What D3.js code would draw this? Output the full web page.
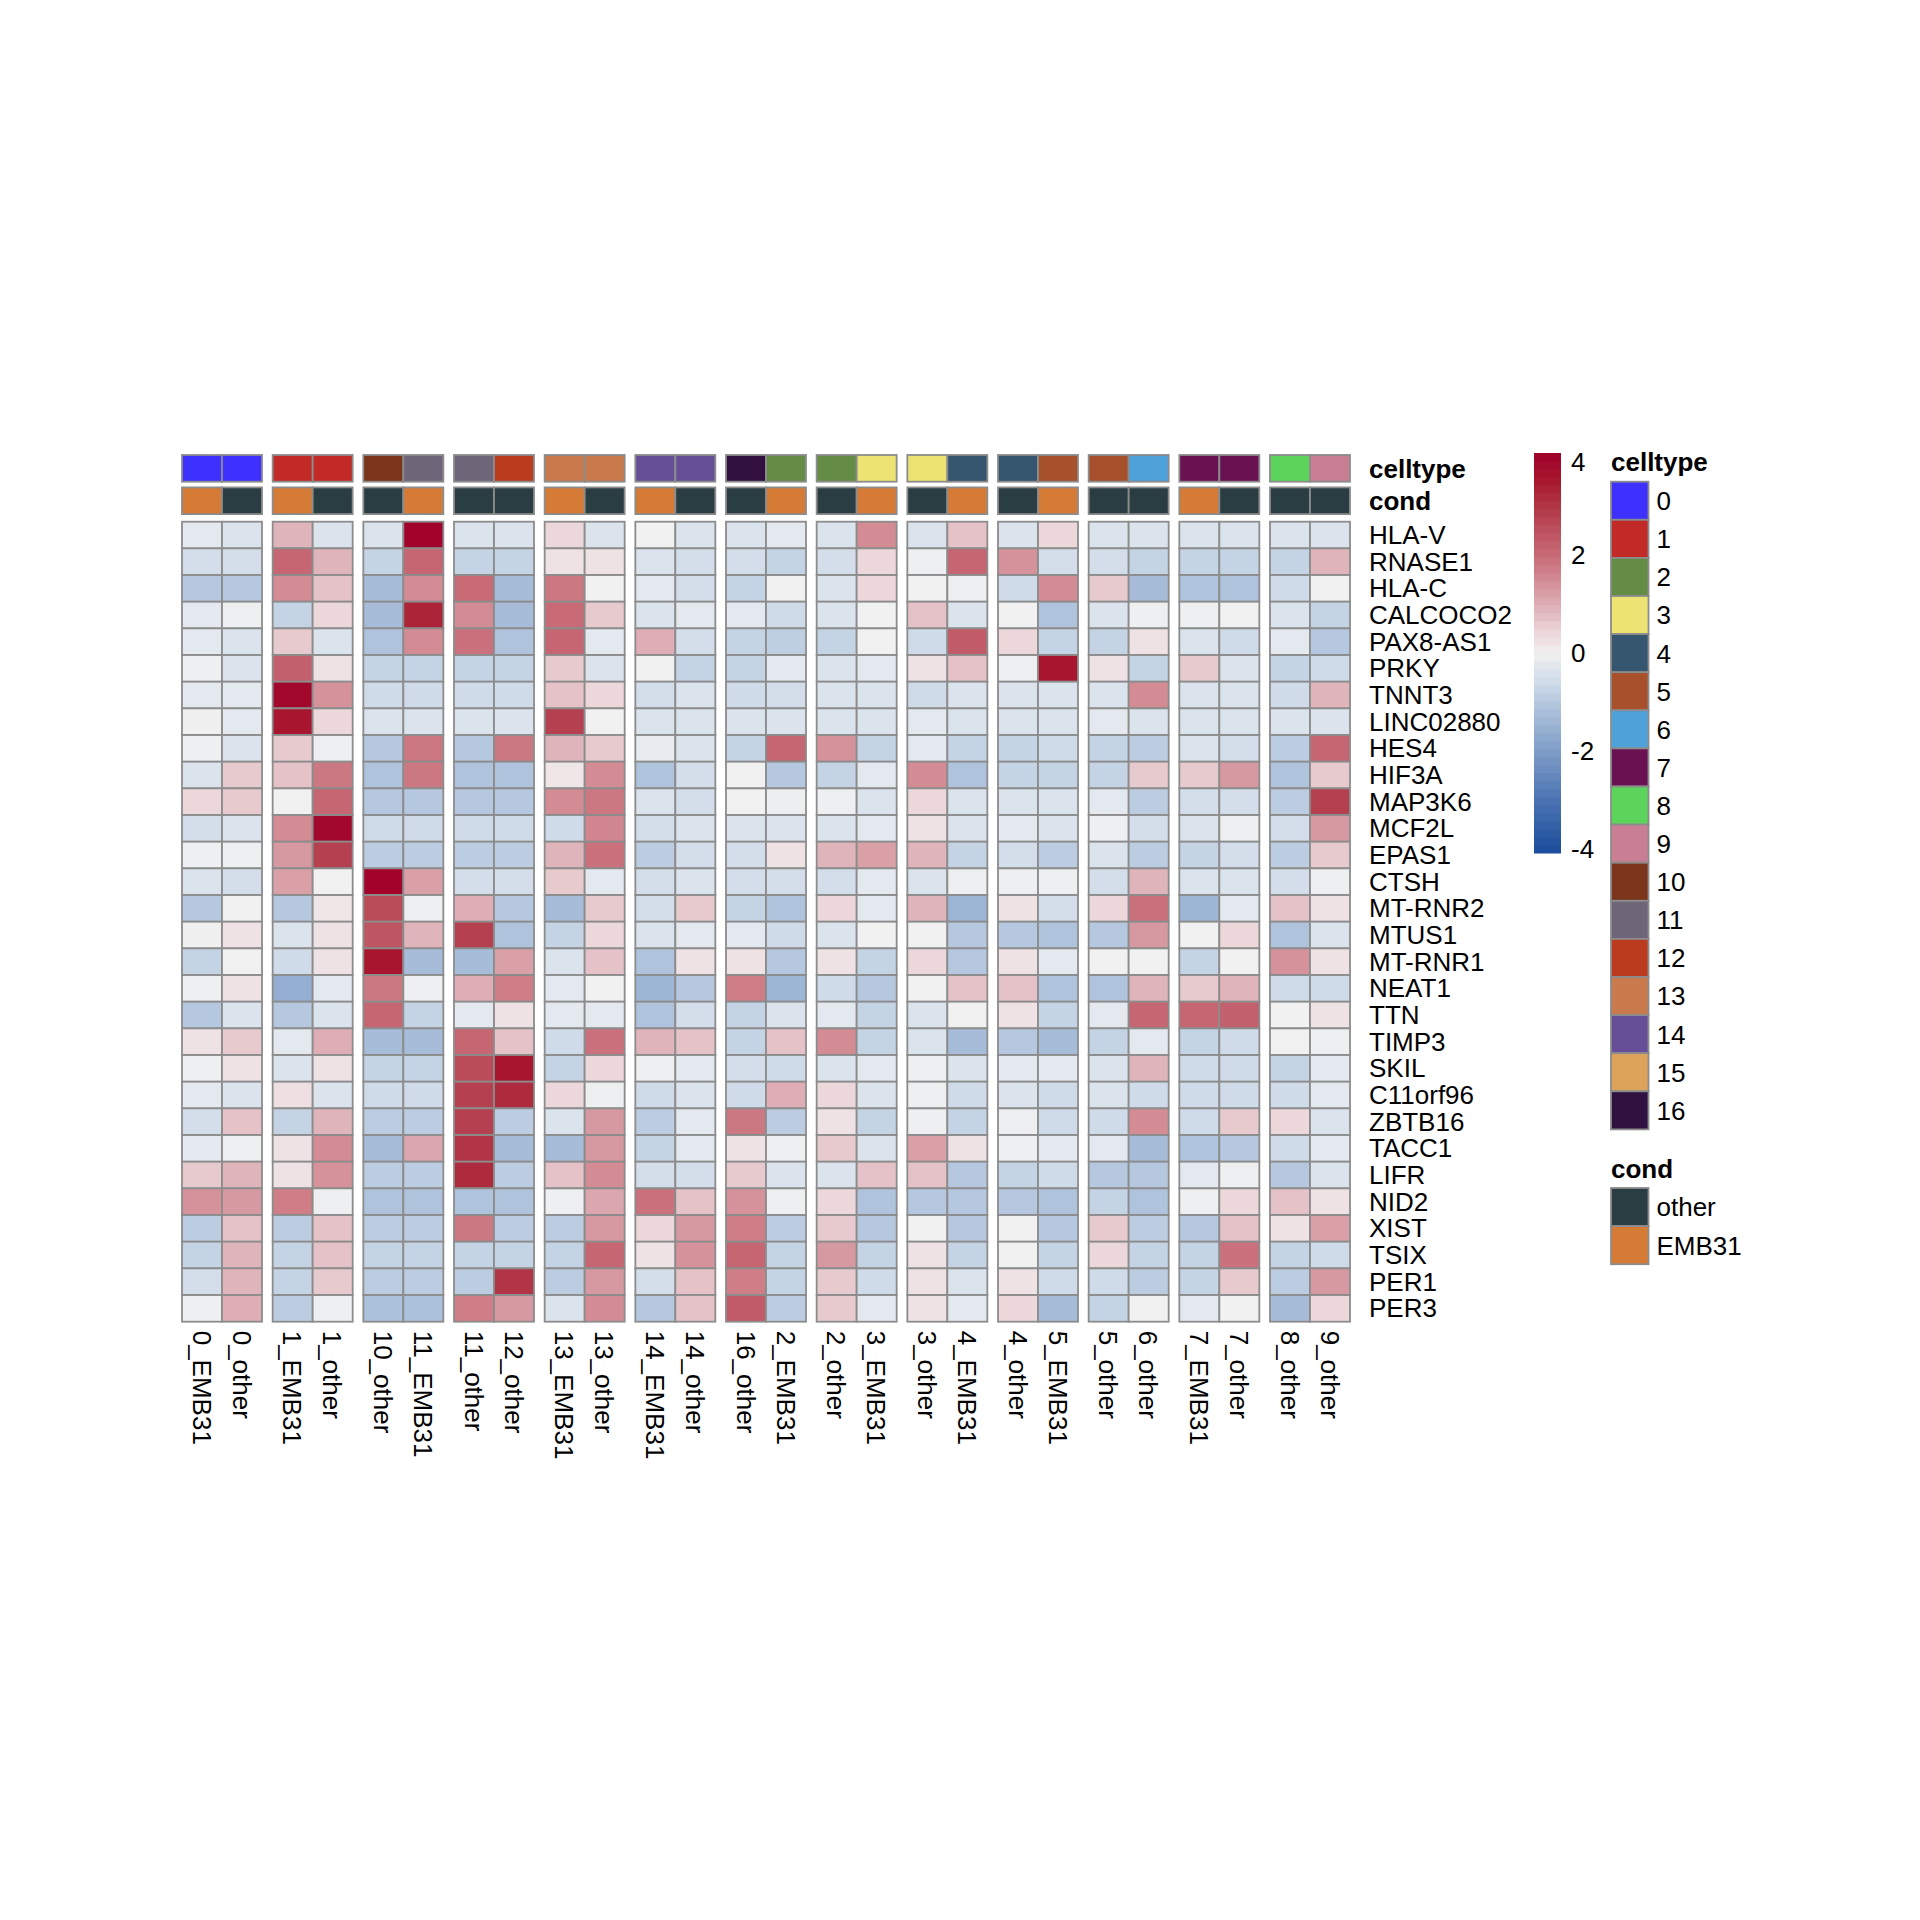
<!DOCTYPE html>
<html>
<head>
<meta charset="utf-8">
<script src="https://cdn.jsdelivr.net/npm/d3@7"></script>
<style>
  html, body { margin: 0; padding: 0; background: #ffffff; }
  text { font-family: "Liberation Sans", Arial, Helvetica, sans-serif; fill: #000; }
</style>
</head>
<body>
<div id="chart"></div>
<script>
/* ============================================================
   DATA
============================================================ */

const genes = [
    "HLA-V", "RNASE1", "HLA-C", "CALCOCO2", "PAX8-AS1", "PRKY", "TNNT3",
    "LINC02880", "HES4", "HIF3A", "MAP3K6", "MCF2L", "EPAS1", "CTSH",
    "MT-RNR2", "MTUS1", "MT-RNR1", "NEAT1", "TTN", "TIMP3", "SKIL",
    "C11orf96", "ZBTB16", "TACC1", "LIFR", "NID2", "XIST", "TSIX", "PER1", "PER3"
];

const samples = [
    "0_EMB31", "0_other", "1_EMB31", "1_other", "10_other", "11_EMB31",
    "11_other", "12_other", "13_EMB31", "13_other", "14_EMB31", "14_other",
    "16_other", "2_EMB31", "2_other", "3_EMB31", "3_other", "4_EMB31",
    "4_other", "5_EMB31", "5_other", "6_other", "7_EMB31", "7_other",
    "8_other", "9_other"
];

// column groups of two (gaps in the heatmap)
const sampleGroup = [0,0,1,1,2,2,3,3,4,4,5,5,6,6,7,7,8,8,9,9,10,10,11,11,12,12];

const sampleCelltype = [
    "0", "0", "1", "1", "10", "11", "11", "12", "13", "13", "14", "14",
    "16", "2", "2", "3", "3", "4", "4", "5", "5", "6", "7", "7", "8", "9"
];

const sampleCond = [
    "EMB31", "other", "EMB31", "other", "other", "EMB31", "other", "other",
    "EMB31", "other", "EMB31", "other", "other", "EMB31", "other", "EMB31",
    "other", "EMB31", "other", "EMB31", "other", "other", "EMB31", "other",
    "other", "other"
];

// scaled expression, one row per gene, one value per sample
const values = [
    [-0.2,-0.35,0.9,-0.35,-0.35,4.0,-0.35,-0.35,0.4,-0.35,0,-0.35,-0.35,-0.2,-0.35,1.5,-0.35,0.7,-0.35,0.4,-0.35,-0.35,-0.35,-0.35,-0.35,-0.35],
    [-0.5,-0.5,2.1,0.9,-0.75,2.1,-0.75,-0.75,0.2,0.2,-0.35,-0.5,-0.5,-0.75,-0.5,0.4,-0.05,2.1,1.4,-0.5,-0.5,-0.75,-0.75,-0.75,-0.75,0.9],
    [-1.0,-1.0,1.5,0.7,-1.25,1.5,2.0,-1.25,1.8,0,-0.2,-0.5,-0.75,0,-0.35,0.4,0,-0.05,-0.6,1.5,0.6,-1.25,-1.1,-1.1,-0.6,0],
    [-0.2,-0.05,-0.75,0.4,-1.25,3.3,1.5,-1.25,2.0,0.6,-0.35,-0.2,-0.2,-0.6,-0.35,0,0.7,-0.35,0,-1.1,-0.35,-0.05,-0.05,0,-0.35,-0.75],
    [-0.2,-0.35,0.6,-0.35,-1.1,1.5,1.9,-1.1,2.1,-0.2,1.0,-0.5,-0.75,-0.85,-0.75,0,-0.6,2.3,0.4,-0.75,-0.75,0.2,-0.35,-0.6,-0.2,-1.0],
    [-0.05,-0.35,2.2,0.2,-0.75,-0.75,-0.75,-0.75,0.6,-0.35,0,-0.75,-0.75,-0.2,-0.35,-0.2,0.2,0.7,-0.05,3.6,0.2,-0.75,0.6,-0.35,-0.75,-0.6],
    [-0.2,-0.2,3.9,1.4,-0.6,-0.6,-0.6,-0.6,0.7,0.4,-0.5,-0.35,-0.6,-0.5,-0.35,-0.35,-0.6,-0.35,-0.35,-0.35,-0.35,1.5,-0.35,-0.35,-0.6,0.9],
    [0.02,-0.2,3.6,0.4,-0.35,-0.35,-0.35,-0.35,2.8,0,-0.35,-0.35,-0.35,-0.35,-0.35,-0.35,-0.2,-0.35,-0.35,-0.35,-0.2,-0.35,-0.35,-0.35,-0.35,-0.35],
    [-0.05,-0.35,0.6,-0.05,-1.0,1.8,-1.0,1.8,0.9,0.6,-0.15,-0.35,-0.75,2.1,1.4,-0.75,-0.2,-0.75,-0.75,-0.6,-0.75,-0.9,-0.35,-0.5,-0.9,2.1],
    [-0.35,0.6,0.7,1.8,-1.1,1.8,-1.1,-1.1,0.15,1.5,-1.1,-0.5,0,-1.0,-0.75,-0.2,1.5,-1.1,-0.75,-0.75,-0.75,0.6,0.6,1.3,-1.1,0.6],
    [0.4,0.6,0,2.1,-1.0,-1.0,-1.0,-1.0,1.5,1.8,-0.35,-0.5,0,-0.08,-0.05,-0.35,0.4,-0.35,-0.35,-0.35,-0.2,-0.9,-0.5,-0.5,-0.9,2.8],
    [-0.5,-0.35,1.5,3.9,-0.6,-0.6,-0.6,-0.6,-0.6,1.6,-0.5,-0.35,-0.35,-0.35,-0.35,-0.2,0.2,-0.35,-0.2,-0.35,-0.05,-0.5,-0.35,-0.05,-0.5,1.3],
    [-0.05,-0.05,1.3,2.8,-0.9,-0.9,-0.9,-0.9,0.9,1.9,-0.9,-0.5,-0.5,0.2,0.9,1.2,0.9,-0.75,-0.5,-0.9,-0.35,-0.9,-0.75,-0.5,-0.9,0.6],
    [-0.35,-0.5,1.2,0,4.0,1.2,-0.5,-0.5,0.6,-0.2,-0.5,-0.35,-0.5,-0.5,-0.5,-0.2,-0.35,-0.05,-0.05,-0.05,-0.5,0.9,-0.35,-0.35,-0.5,-0.05],
    [-1.0,0,-1.0,0.15,2.6,-0.05,1.0,-1.0,-1.25,0.6,-0.5,0.6,-0.75,-1.1,0.4,-0.2,0.9,-1.4,0.2,-0.5,0.4,1.9,-1.4,-0.2,0.7,0.2],
    [0.02,0.2,-0.35,0.2,2.4,0.9,2.8,-1.1,-0.75,0.4,-0.35,-0.2,-0.2,-0.6,-0.35,0,0,-1.0,-1.0,-1.1,-1.0,1.3,0,0.4,-1.1,-0.35],
    [-0.75,0,-0.6,0.2,3.6,-1.25,-1.25,1.2,-0.35,0.7,-1.1,0.2,0.2,-1.0,0.2,-0.75,0.4,-1.0,0.2,-0.2,0,0,-0.75,0,1.4,0.2],
    [-0.05,0.2,-1.6,-0.2,1.8,-0.05,1.0,1.7,-0.2,0,-1.4,-1.0,1.7,-1.4,-0.6,-1.0,0,0.7,0.7,-1.1,-1.1,0.9,0.6,0.9,-0.6,-0.6],
    [-1.0,-0.35,-1.0,-0.35,2.1,-0.75,-0.2,0.2,-0.2,-0.2,-1.1,-0.5,-0.75,-0.35,-0.2,-0.75,-0.35,0,0.2,-0.75,-0.2,2.1,2.1,2.2,0,0.2],
    [0.2,0.6,-0.2,1.0,-1.25,-1.25,2.1,0.7,-0.6,1.9,0.9,0.7,-0.75,0.7,1.5,-0.75,-0.35,-1.25,-1.0,-1.25,-0.75,-0.2,-0.75,-0.6,0,-0.05],
    [-0.05,0.2,-0.35,0.2,-0.75,-0.75,2.6,3.6,-0.75,0.4,-0.05,-0.2,-0.5,-0.6,-0.35,-0.2,-0.05,-0.35,-0.2,-0.2,-0.35,0.9,-0.6,-0.6,-0.75,-0.2],
    [-0.2,-0.35,0.25,-0.35,-0.6,-0.6,2.8,3.2,0.4,-0.05,-0.6,-0.35,-0.6,1.0,0.4,-0.35,-0.05,-0.6,-0.35,-0.6,-0.35,-0.6,-0.6,-0.6,-0.6,-0.2],
    [-0.5,0.7,-0.75,0.9,-0.9,-0.9,2.8,-0.9,-0.35,1.3,-0.9,-0.2,1.8,-0.9,0.2,-0.75,-0.05,-0.75,-0.05,-0.6,-0.6,1.5,-0.6,0.6,0.4,-0.35],
    [-0.2,-0.05,0.2,1.5,-1.25,1.1,3.0,-1.25,-1.25,1.3,-0.75,-0.2,0.2,-0.05,0.6,-0.35,1.2,0.2,-0.05,-0.2,-0.2,-1.25,-1.1,-1.0,-0.6,-0.2],
    [0.6,0.9,0.2,1.4,-0.9,-0.9,3.2,-0.9,0.7,1.5,-0.5,-0.5,0.6,-0.35,-0.35,0.7,0.7,-1.0,-0.75,-0.6,-1.0,-1.0,-0.2,-0.05,-1.0,-0.35],
    [1.4,1.3,1.7,-0.05,-1.1,-1.1,-1.1,-1.1,-0.05,1.1,1.9,0.7,1.4,-0.05,0.4,-1.1,-1.0,-1.0,-1.0,-1.1,-0.75,-1.1,-0.05,0.4,0.7,0.2],
    [-0.9,0.7,-0.9,0.7,-0.9,-0.9,1.8,-0.9,-0.9,1.3,0.4,1.3,1.7,-0.9,0.6,-1.0,0,-1.0,0,-1.0,0.6,-0.9,-1.0,0.7,0.2,1.2],
    [-0.75,0.9,-0.75,0.7,-0.75,-0.75,-0.75,-0.75,-0.75,2.1,0.2,1.4,2.1,-0.75,1.3,-0.75,0.2,-0.75,0,-0.75,0.4,-0.75,-0.75,1.9,-0.75,-0.6],
    [-0.5,0.9,-0.75,0.6,-0.9,-0.9,-0.9,3.0,-0.9,1.3,-0.5,0.7,1.7,-0.75,0.6,-0.6,0.2,-0.35,0.2,-0.6,-0.6,-0.9,-0.75,0.6,-0.9,1.3],
    [-0.05,1.0,-0.9,-0.05,-1.15,-1.15,1.7,1.3,-0.35,1.5,-1.0,0.7,2.3,-0.9,0.6,-0.2,0.2,-0.2,0.4,-1.25,-0.75,0,-0.2,0,-1.25,0.4]
];

const celltypeLevels = ["0","1","2","3","4","5","6","7","8","9","10","11","12","13","14","15","16"];
const celltypeColors = [
    "#3e31fe", "#c12a27", "#648c45", "#ece373", "#36556e", "#a6502c",
    "#4ea1d9", "#6a1152", "#5cd45b", "#c97e93", "#7b351b", "#6e6578",
    "#ba3b1e", "#c97b4d", "#664f97", "#dea35b", "#30103e"
];

const condLevels = ["other", "EMB31"];
const condColors = ["#2a3d43", "#d57b35"];

const legendTicks = [4, 2, 0, -2, -4];

/* ============================================================
   LAYOUT
============================================================ */

const W = 1920, H = 1920;
const FONT = 26;
const BORDER = "#8c8c8c";

const heat = { left: 182, right: 1350, top: 521.7, bottom: 1321.7 };
const annoRows = [
    { key: "celltype", y: 455 },
    { key: "cond", y: 487.4 }
];
const annoH = 26.7;

const svg = d3.select("#chart")
    .append("svg")
    .attr("width", W)
    .attr("height", H);

/* ============================================================
   SCALES
============================================================ */

const groupScale = d3.scaleBand()
    .domain(d3.range(13))
    .range([heat.left, heat.right])
    .paddingInner(0.1176)
    .paddingOuter(0);

const innerScale = d3.scaleBand()
    .domain([0, 1])
    .range([0, groupScale.bandwidth()]);

const xPos = i => groupScale(sampleGroup[i]) + innerScale(i % 2);
const cellW = innerScale.bandwidth();

const yScale = d3.scaleBand()
    .domain(genes)
    .range([heat.top, heat.bottom]);

const color = d3.scaleLinear()
    .domain([-4.08, -3, -2, -1.25, -1, -0.6, -0.35, 0, 0.2, 0.4, 0.9, 1.5, 2, 2.8, 3.5, 4.08])
    .range(["#1a4c9a", "#4a73b3", "#7f9dc8", "#a6bcd8", "#b5c8df", "#cfdbe8", "#dbe3ed",
            "#f1f1f1", "#eee2e4", "#ecd8db", "#e0b4bb", "#d38b94", "#c86b77", "#b5404f",
            "#a8192f", "#a0002a"])
    .clamp(true);

const celltypeColor = d3.scaleOrdinal().domain(celltypeLevels).range(celltypeColors);
const condColor = d3.scaleOrdinal().domain(condLevels).range(condColors);

/* ============================================================
   HEATMAP CELLS
============================================================ */

const cells = [];
values.forEach((row, r) => row.forEach((v, c) => cells.push({ gene: genes[r], col: c, v })));

svg.append("g")
    .selectAll("rect")
    .data(cells)
    .join("rect")
    .attr("x", d => xPos(d.col))
    .attr("y", d => yScale(d.gene))
    .attr("width", cellW)
    .attr("height", yScale.bandwidth())
    .attr("fill", d => color(d.v))
    .attr("stroke", BORDER)
    .attr("stroke-width", 1.8);

/* ============================================================
   ANNOTATION BARS
============================================================ */

const annoFill = {
    celltype: i => celltypeColor(sampleCelltype[i]),
    cond: i => condColor(sampleCond[i])
};

annoRows.forEach(a => {
    svg.append("g")
        .selectAll("rect")
        .data(samples.map((s, i) => i))
        .join("rect")
        .attr("x", i => xPos(i))
        .attr("y", a.y)
        .attr("width", cellW)
        .attr("height", annoH)
        .attr("fill", annoFill[a.key])
        .attr("stroke", BORDER)
        .attr("stroke-width", 1.8);

    svg.append("text")
        .attr("x", 1369)
        .attr("y", a.y + annoH / 2)
        .attr("dy", "0.36em")
        .attr("font-size", FONT)
        .attr("font-weight", "bold")
        .text(a.key);
});

/* ============================================================
   ROW + COLUMN LABELS
============================================================ */

svg.append("g")
    .selectAll("text")
    .data(genes)
    .join("text")
    .attr("x", 1369)
    .attr("y", d => yScale(d) + yScale.bandwidth() / 2)
    .attr("dy", "0.34em")
    .attr("font-size", FONT)
    .text(d => d);

svg.append("g")
    .selectAll("text")
    .data(samples)
    .join("text")
    .attr("transform", (d, i) => `translate(${xPos(i) + cellW / 2},${heat.bottom + 9}) rotate(90)`)
    .attr("dy", "0.36em")
    .attr("font-size", FONT)
    .text(d => d);

/* ============================================================
   COLOUR BAR LEGEND
============================================================ */

const barX = 1534, barW = 27;
const barScale = d3.scaleLinear().domain([-4.08, 4.08]).range([853, 453]);
const nBands = 50;
const bandEdges = d3.range(nBands + 1).map(k => -4.08 + k * 8.16 / nBands);

svg.append("g")
    .selectAll("rect")
    .data(d3.pairs(bandEdges))
    .join("rect")
    .attr("x", barX)
    .attr("y", d => barScale(d[1]))
    .attr("width", barW)
    .attr("height", d => barScale(d[0]) - barScale(d[1]) + 0.5)
    .attr("fill", d => color((d[0] + d[1]) / 2));

svg.append("g")
    .selectAll("text")
    .data(legendTicks)
    .join("text")
    .attr("x", 1571)
    .attr("y", d => Math.max(barScale(d), 462))
    .attr("dy", "0.36em")
    .attr("font-size", FONT)
    .text(d => d);

/* ============================================================
   CATEGORY LEGENDS
============================================================ */

const boxX = 1611, boxW = 37.5, boxH = 38.1;

function drawLegend(title, titleY, top, levels, scale) {
    svg.append("text")
        .attr("x", boxX)
        .attr("y", titleY)
        .attr("font-size", FONT)
        .attr("font-weight", "bold")
        .text(title);

    const g = svg.append("g");
    g.selectAll("rect")
        .data(levels)
        .join("rect")
        .attr("x", boxX)
        .attr("y", (d, i) => top + i * boxH)
        .attr("width", boxW)
        .attr("height", boxH)
        .attr("fill", d => scale(d))
        .attr("stroke", BORDER)
        .attr("stroke-width", 1.8);

    g.selectAll("text")
        .data(levels)
        .join("text")
        .attr("x", boxX + boxW + 8)
        .attr("y", (d, i) => top + i * boxH + boxH / 2)
        .attr("dy", "0.36em")
        .attr("font-size", FONT)
        .text(d => d);
}

drawLegend("celltype", 471, 481.7, celltypeLevels, celltypeColor);
drawLegend("cond", 1178, 1188, condLevels, condColor);
</script>
</body>
</html>
